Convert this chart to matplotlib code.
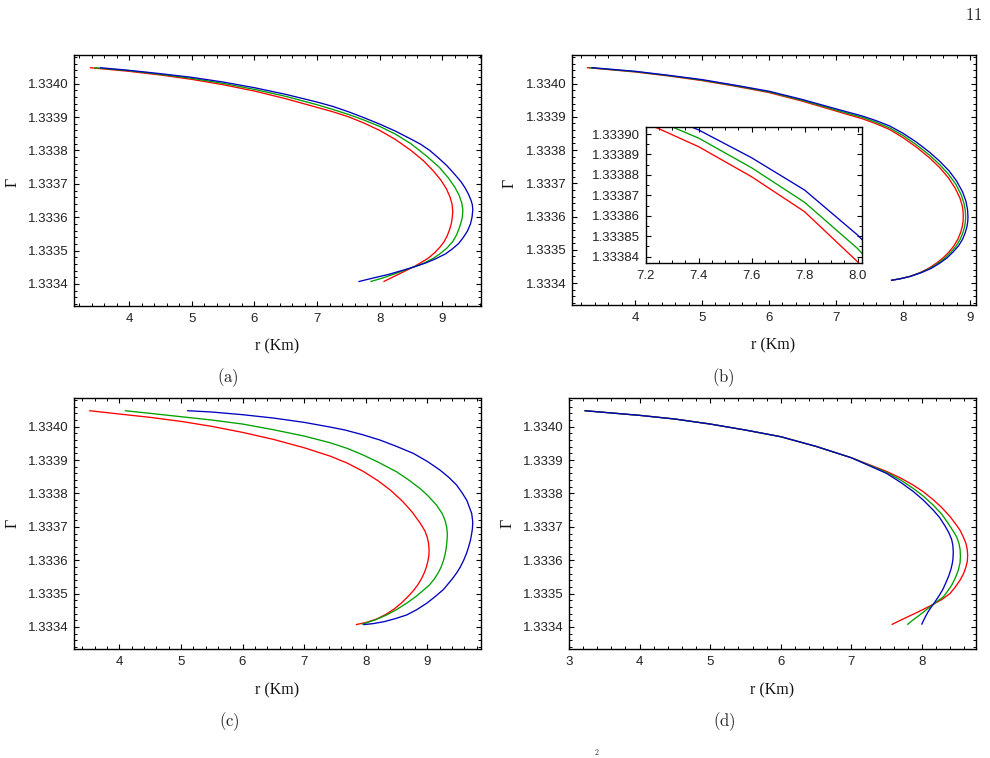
import matplotlib
matplotlib.use('Agg')
import matplotlib.pyplot as plt
from matplotlib.ticker import FixedLocator, FixedFormatter, MultipleLocator

plt.rcParams['mathtext.fontset'] = 'cm'

W, H = 990, 758

# ---------------- data ----------------
# panel (a)
a_red_r = [3.37, 4.0, 4.5, 5.0, 5.5, 6.0, 6.5, 7.0, 7.25, 7.5, 7.75, 8.0, 8.25, 8.5, 8.7, 8.85, 8.97, 9.06, 9.12, 9.155,
           9.167, 9.16, 9.145, 9.12, 9.08, 9.03, 8.96, 8.88, 8.78, 8.66, 8.54, 8.42, 8.30, 8.18, 8.06]
a_red_g = [1.334048, 1.334037, 1.334026, 1.334013, 1.333997, 1.333978, 1.333955, 1.333929, 1.333916, 1.333901,
           1.333882, 1.333860, 1.333833, 1.333800, 1.333769, 1.333740, 1.333713, 1.333687, 1.333662, 1.333640,
           1.333618, 1.333600, 1.333582, 1.333565, 1.333545, 1.333527, 1.333510, 1.333494, 1.333478, 1.333464,
           1.333451, 1.333440, 1.333429, 1.333418, 1.333407]
a_grn_r = [3.44, 4.0, 4.5, 5.0, 5.5, 6.0, 6.5, 7.0, 7.25, 7.5, 7.75, 8.0, 8.25, 8.5, 8.75, 8.95, 9.1, 9.2, 9.27, 9.31,
           9.328, 9.32, 9.30, 9.27, 9.23, 9.17, 9.07, 8.96, 8.857, 8.70, 8.54, 8.38, 8.22, 8.05, 7.85]
a_grn_g = [1.334048, 1.334039, 1.334028, 1.334016, 1.334001, 1.333983, 1.333962, 1.333937, 1.333923, 1.333908,
           1.333891, 1.333872, 1.333849, 1.333820, 1.333783, 1.333750, 1.333717, 1.333690, 1.333665, 1.333643,
           1.333622, 1.333600, 1.333585, 1.333567, 1.333548, 1.333528, 1.333507, 1.333490, 1.333477, 1.333462,
           1.333451, 1.333440, 1.333429, 1.333418, 1.333407]
a_blu_r = [3.53, 4.0, 4.5, 5.0, 5.5, 6.0, 6.5, 7.0, 7.25, 7.5, 7.75, 8.0, 8.25, 8.5, 8.65, 8.8, 8.93, 9.07, 9.2, 9.3,
           9.37, 9.42, 9.46, 9.48, 9.487, 9.475, 9.45, 9.40, 9.33, 9.26, 9.16, 9.05, 8.9, 8.75, 8.55, 8.35, 8.15,
           7.9, 7.66]
a_blu_g = [1.334048, 1.334040, 1.334030, 1.334019, 1.334005, 1.333988, 1.333968, 1.333945, 1.333932, 1.333916,
           1.333898, 1.333879, 1.333858, 1.333834, 1.333819, 1.333800, 1.333779, 1.333755, 1.333728, 1.333706,
           1.333686, 1.333668, 1.333650, 1.333637, 1.333622, 1.333600, 1.333580, 1.333558, 1.333538, 1.333521,
           1.333505, 1.333490, 1.333476, 1.333464, 1.333451, 1.333440, 1.333429, 1.333418, 1.333407]

# panel (b)
b_red_r = [3.28, 4.0, 4.5, 5.0, 5.5, 6.0, 6.5, 7.0, 7.2, 7.4, 7.6, 7.8, 8.0, 8.2, 8.4, 8.55, 8.68, 8.78, 8.85, 8.885,
           8.897, 8.9, 8.897, 8.885, 8.86, 8.82, 8.76, 8.69, 8.60, 8.50, 8.38, 8.25, 8.10, 7.96, 7.82]
b_red_g = [1.334048, 1.334035, 1.334023, 1.334009, 1.333992, 1.333973, 1.333947, 1.3339175, 1.3339055, 1.3338938,
           1.3338791, 1.3338620, 1.3338375, 1.333809, 1.333776, 1.333747, 1.333716, 1.333685, 1.333656, 1.333632,
           1.333615, 1.333600, 1.333585, 1.333570, 1.333552, 1.333532, 1.333512, 1.333494, 1.333476, 1.333460,
           1.333444, 1.333431, 1.333420, 1.333413, 1.333408]
b_grn_r = [3.31, 4.0, 4.5, 5.0, 5.5, 6.0, 6.5, 7.0, 7.2, 7.4, 7.6, 7.8, 8.0, 8.2, 8.4, 8.55, 8.68, 8.79, 8.87, 8.91,
           8.93, 8.935, 8.932, 8.92, 8.895, 8.855, 8.795, 8.72, 8.63, 8.525, 8.40, 8.26, 8.105, 7.96, 7.82]
b_grn_g = [1.334048, 1.334036, 1.334024, 1.3340105, 1.3339935, 1.333975, 1.3339495, 1.3339205, 1.333909, 1.333898,
           1.3338835, 1.3338666, 1.333844, 1.333816, 1.333784, 1.333756, 1.333727, 1.333697, 1.333665, 1.333640,
           1.333618, 1.333600, 1.333585, 1.333570, 1.333552, 1.333532, 1.333512, 1.333494, 1.333476, 1.333460,
           1.333444, 1.333431, 1.333420, 1.333413, 1.333408]
b_blu_r = [3.35, 4.0, 4.5, 5.0, 5.5, 6.0, 6.5, 7.0, 7.2, 7.4, 7.6, 7.8, 8.0, 8.2, 8.4, 8.55, 8.69, 8.80, 8.89, 8.94,
           8.963, 8.97, 8.967, 8.955, 8.93, 8.89, 8.83, 8.75, 8.66, 8.55, 8.42, 8.27, 8.11, 7.96, 7.82]
b_blu_g = [1.334048, 1.334037, 1.334025, 1.334012, 1.333995, 1.333977, 1.333952, 1.333924, 1.333913, 1.333902,
           1.3338884, 1.3338726, 1.3338506, 1.333824, 1.333793, 1.333766, 1.333737, 1.333707, 1.333674, 1.333646,
           1.333622, 1.333600, 1.333585, 1.333570, 1.333552, 1.333532, 1.333512, 1.333494, 1.333476, 1.333460,
           1.333444, 1.333431, 1.333420, 1.333413, 1.333408]

# panel (c)
c_red_r = [3.51, 4.0, 4.5, 5.0, 5.5, 6.0, 6.5, 7.0, 7.42, 7.7, 7.96, 8.2, 8.4, 8.6, 8.75, 8.88, 8.96, 9.0, 9.02, 9.028,
           9.025, 9.01, 8.985, 8.95, 8.90, 8.84, 8.77, 8.68, 8.58, 8.47, 8.33, 8.18, 8.02, 7.84]
c_red_g = [1.334048, 1.334038, 1.334028, 1.334016, 1.334001, 1.333983, 1.333962, 1.333937, 1.333912, 1.333891,
           1.333866, 1.333838, 1.333810, 1.333776, 1.333745, 1.333712, 1.333688, 1.333668, 1.333650, 1.333632,
           1.333615, 1.333598, 1.333580, 1.333562, 1.333543, 1.333525, 1.333508, 1.333490, 1.333472, 1.333455,
           1.333438, 1.333424, 1.333414, 1.333407]
c_grn_r = [4.09, 4.5, 5.0, 5.5, 6.0, 6.5, 7.0, 7.42, 7.7, 7.96, 8.2, 8.5, 8.7, 8.88, 9.0, 9.15, 9.24, 9.29, 9.315, 9.325,
           9.318, 9.305, 9.285, 9.26, 9.22, 9.17, 9.11, 9.03, 8.935, 8.82, 8.67, 8.50, 8.34, 8.15, 7.934]
c_grn_g = [1.334048, 1.334040, 1.334030, 1.334020, 1.334008, 1.333991, 1.333972, 1.333952, 1.333935, 1.333915,
           1.333894, 1.333865, 1.333840, 1.333815, 1.333795, 1.333765, 1.333740, 1.333718, 1.333698, 1.333678,
           1.333655, 1.333635, 1.333615, 1.333598, 1.333578, 1.333560, 1.333543, 1.333525, 1.333510, 1.333492,
           1.333472, 1.333452, 1.333436, 1.333421, 1.333408]
c_blu_r = [5.10, 5.5, 6.0, 6.5, 7.0, 7.42, 7.664, 7.95, 8.232, 8.5, 8.773, 9.0, 9.206, 9.35, 9.476, 9.56, 9.639, 9.68,
           9.72, 9.737, 9.732, 9.72, 9.70, 9.67, 9.639, 9.59, 9.53, 9.476, 9.40, 9.26, 9.12, 8.989, 8.83, 8.665, 8.48,
           8.30, 8.12, 7.96]
c_blu_g = [1.334048, 1.334044, 1.334036, 1.334026, 1.334013, 1.333999, 1.333990, 1.333976, 1.333960, 1.333941,
           1.333920, 1.333896, 1.333870, 1.333848, 1.333825, 1.333803, 1.333780, 1.333760, 1.333740, 1.333715,
           1.333695, 1.333680, 1.333660, 1.333640, 1.333622, 1.333600, 1.333578, 1.333562, 1.333543, 1.333512,
           1.333490, 1.333471, 1.333452, 1.333436, 1.333425, 1.333416, 1.333410, 1.333407]

# panel (d)
d_red_r = [3.22, 4.0, 4.5, 5.0, 5.5, 6.0, 6.5, 7.0, 7.5, 7.7, 7.877, 8.02, 8.161, 8.28, 8.397, 8.48, 8.539, 8.59, 8.624,
           8.642, 8.648, 8.643, 8.624, 8.59, 8.539, 8.47, 8.397, 8.28, 8.161, 8.04, 7.925, 7.8, 7.68, 7.57]
d_red_g = [1.334048, 1.334034, 1.334023, 1.334008, 1.333990, 1.333970, 1.333941, 1.333907, 1.333866, 1.333846,
           1.333825, 1.333805, 1.333781, 1.333758, 1.333731, 1.333708, 1.333690, 1.333668, 1.333650, 1.333632,
           1.333615, 1.333597, 1.333580, 1.333560, 1.333540, 1.333519, 1.333500, 1.333482, 1.333468, 1.333455,
           1.333443, 1.3334305, 1.3334185, 1.333407]
d_grn_r = [3.22, 4.0, 4.5, 5.0, 5.5, 6.0, 6.5, 7.0, 7.5, 7.7, 7.877, 8.02, 8.161, 8.28, 8.373, 8.44, 8.492, 8.525, 8.541,
           8.545, 8.54, 8.515, 8.475, 8.421, 8.36, 8.302, 8.23, 8.161, 8.07, 7.972, 7.88, 7.792]
d_grn_g = [1.334048, 1.334034, 1.334023, 1.334008, 1.333990, 1.333970, 1.333941, 1.333907, 1.333863, 1.333840,
           1.333815, 1.333792, 1.333765, 1.333738, 1.333710, 1.333688, 1.333670, 1.333650, 1.333632, 1.333612,
           1.333592, 1.333570, 1.333548, 1.333525, 1.333506, 1.333490, 1.333479, 1.333468, 1.333453, 1.3334365,
           1.333422, 1.333407]
d_blu_r = [3.22, 4.0, 4.5, 5.0, 5.5, 6.0, 6.5, 7.0, 7.5, 7.7, 7.877, 8.02, 8.161, 8.25, 8.326, 8.38, 8.421, 8.438, 8.444,
           8.44, 8.43, 8.41, 8.38, 8.34, 8.30, 8.25, 8.20, 8.161, 8.12, 8.08, 8.045, 8.015, 7.995]
d_blu_g = [1.334048, 1.334034, 1.334023, 1.334008, 1.333990, 1.333970, 1.333941, 1.333907, 1.333860, 1.333833,
           1.333806, 1.333780, 1.333750, 1.333728, 1.333703, 1.333683, 1.333662, 1.333645, 1.333625, 1.333605,
           1.333590, 1.333572, 1.333553, 1.333533, 1.333514, 1.333496, 1.333480, 1.333468, 1.333456, 1.333443,
           1.333429, 1.333416, 1.333407]

# ticks
y_ticks = [1.3334, 1.3335, 1.3336, 1.3337, 1.3338, 1.3339, 1.3340]
y_labels = ['1.3334', '1.3335', '1.3336', '1.3337', '1.3338', '1.3339', '1.3340']
x_ticks = [3, 4, 5, 6, 7, 8, 9]
inset_x_ticks = [7.2, 7.4, 7.6, 7.8, 8.0]
inset_x_labels = ['7.2', '7.4', '7.6', '7.8', '8.0']
inset_y_ticks = [1.33384, 1.33385, 1.33386, 1.33387, 1.33388, 1.33389, 1.33390]
inset_y_labels = ['1.33384', '1.33385', '1.33386', '1.33387', '1.33388', '1.33389', '1.33390']

panel_letters = ['(a)', '(b)', '(c)', '(d)']
colors = ['#ff0000', '#00a000', '#0000c0']

# ---------------- figure ----------------
fig = plt.figure(figsize=(W / 100, H / 100), dpi=100)


def px_rect(x0, y0, x1, y1):
    return [x0 / W, 1 - y1 / H, (x1 - x0) / W, (y1 - y0) / H]


def style_axes(ax, xt, xl, yt, yl, xminor, yminor):
    for s in ax.spines.values():
        s.set_linewidth(1.0)
        s.set_color('black')
    ax.xaxis.set_major_locator(FixedLocator(xt))
    ax.xaxis.set_major_formatter(FixedFormatter(xl))
    ax.yaxis.set_major_locator(FixedLocator(yt))
    ax.yaxis.set_major_formatter(FixedFormatter(yl))
    ax.xaxis.set_minor_locator(MultipleLocator(xminor))
    ax.yaxis.set_minor_locator(MultipleLocator(yminor))
    ax.tick_params(which='both', direction='in', top=True, right=True, colors='black',
                   labelcolor='#222222')
    ax.tick_params(which='major', length=3.8, width=0.8)
    ax.tick_params(which='minor', length=2.0, width=0.7)
    ax.tick_params(axis='y', pad=4)
    ax.tick_params(axis='x', pad=5)
    for lab in ax.get_xticklabels() + ax.get_yticklabels():
        lab.set_fontfamily('Liberation Sans')
        lab.set_fontsize(9.5)


rects = [px_rect(74, 55, 481, 306), px_rect(572, 55, 976, 305),
         px_rect(74, 398, 481, 649), px_rect(569, 398, 976, 649)]
xlims = [(3.117, 9.618), (3.059, 9.09), (3.264, 9.871), (3.0, 8.766)]
ylim = (1.333334, 1.334086)
data = [
    [(a_red_r, a_red_g), (a_grn_r, a_grn_g), (a_blu_r, a_blu_g)],
    [(b_red_r, b_red_g), (b_grn_r, b_grn_g), (b_blu_r, b_blu_g)],
    [(c_red_r, c_red_g), (c_grn_r, c_grn_g), (c_blu_r, c_blu_g)],
    [(d_red_r, d_red_g), (d_grn_r, d_grn_g), (d_blu_r, d_blu_g)],
]
xlab_pos = [(277, 346), (773, 345), (277, 690), (772, 690)]
ylab_pos = [(13, 182), (510, 183), (13, 523), (508, 523)]
letter_pos = [(228, 378), (723.5, 378), (229, 722), (724, 722)]

for i in range(4):
    ax = fig.add_axes(rects[i])
    for (r, g), c in zip(data[i], colors):
        ax.plot(r, g, color=c, lw=0.95, solid_joinstyle='round', solid_capstyle='butt')
    ax.set_xlim(*xlims[i])
    ax.set_ylim(*ylim)
    xt = [t for t in x_ticks if xlims[i][0] - 1e-9 <= t <= xlims[i][1]]
    style_axes(ax, xt, [str(t) for t in xt], y_ticks, y_labels, 0.2, 0.00002)
    fig.text(xlab_pos[i][0] / W, 1 - xlab_pos[i][1] / H, 'r (Km)', family='Liberation Serif',
             fontsize=11.5, ha='center', va='center', color='#111111')
    fig.text(ylab_pos[i][0] / W, 1 - ylab_pos[i][1] / H, 'Γ', family='Liberation Serif',
             fontsize=11.5, ha='center', va='center', rotation=90, color='#111111')
    fig.text(letter_pos[i][0] / W, 1 - letter_pos[i][1] / H, r'$\mathrm{' + panel_letters[i] + '}$',
             fontsize=12, ha='center', va='center', color='#222222')

# inset in panel (b)
axi = fig.add_axes(px_rect(645.7, 127.3, 862.3, 263))
for (r, g), c in zip(data[1], colors):
    axi.plot(r, g, color=c, lw=0.95, solid_joinstyle='round')
axi.set_xlim(7.2, 8.018)
axi.set_ylim(1.3338369, 1.3339033)
style_axes(axi, inset_x_ticks, inset_x_labels, inset_y_ticks, inset_y_labels, 0.05, 0.000005)

# page number and caption fragment at the bottom edge
fig.text(974 / W, 1 - 15 / H, r'$\mathrm{11}$', fontsize=12, ha='center', va='center', color='#222222')
fig.text(597 / W, 1 - 757 / H, r'$\mathrm{2}$', fontsize=5.5, ha='center', va='bottom', color='#222222')

fig.savefig('out.png', dpi=100)
